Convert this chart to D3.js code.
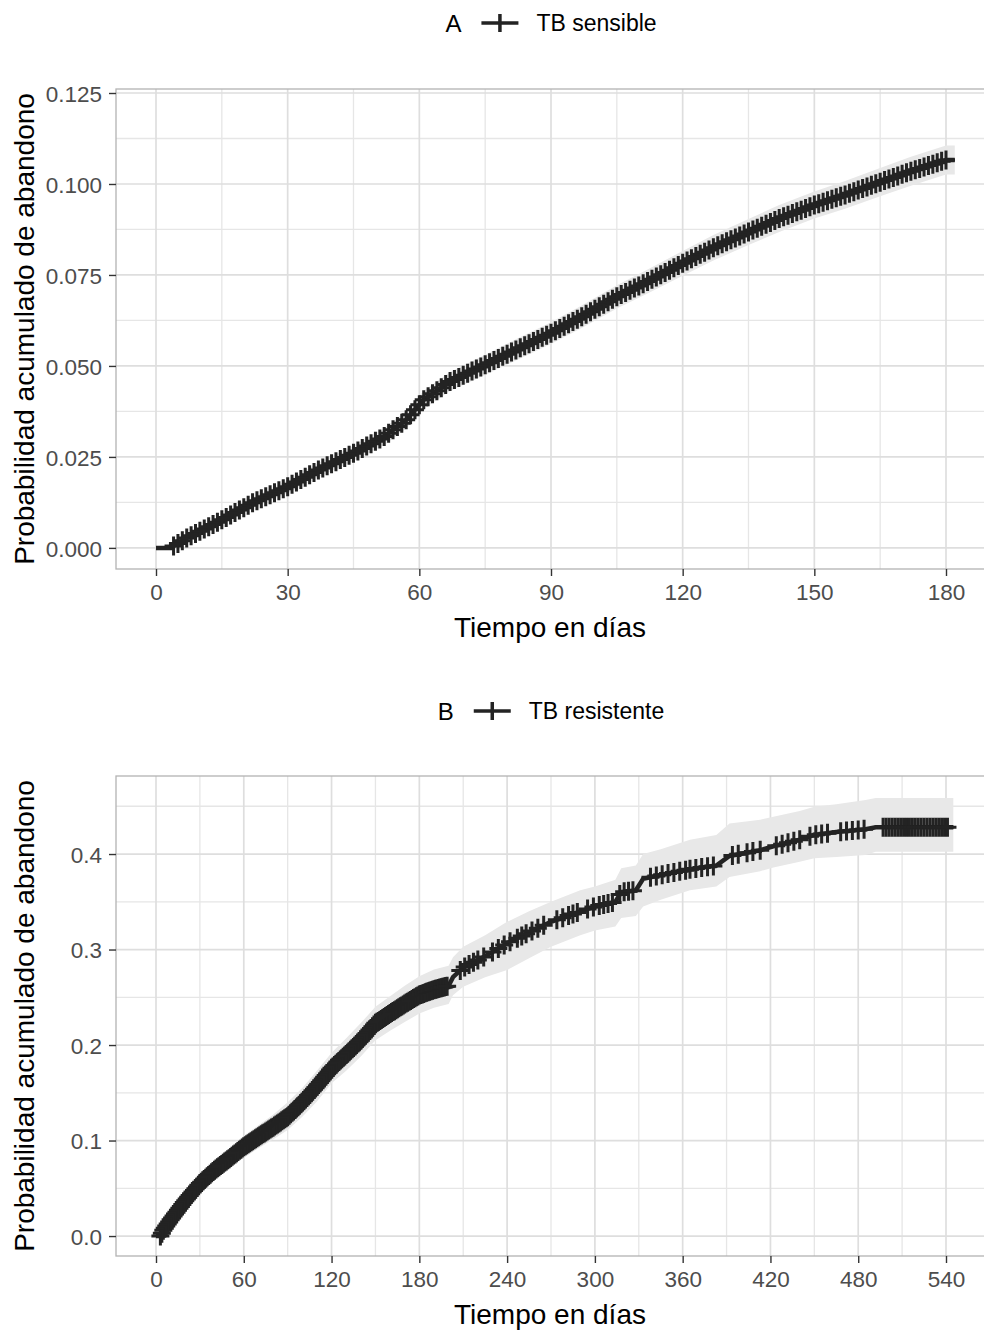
<!DOCTYPE html>
<html>
<head>
<meta charset="utf-8">
<script src="https://cdn.jsdelivr.net/npm/d3@7"></script>
<style>
body { margin: 0; background: #fff; }
text { font-family: "Liberation Sans", Arial, sans-serif; }
</style>
</head>
<body>
<script>
// panel A: TB sensible
var timeA  = [0, 3.5, 4, 7, 15, 22, 30, 37, 45, 52, 57, 61, 67, 75, 82, 90, 97, 105, 112, 120, 127, 135, 142, 150, 157, 165, 172, 180, 182];
var probA  = [0, 0, 0.0005, 0.0027, 0.0077, 0.0124, 0.0168, 0.0214, 0.026, 0.0306, 0.0352, 0.0407, 0.0457, 0.0503, 0.0544, 0.059, 0.0635, 0.069, 0.0732, 0.0782, 0.0825, 0.0868, 0.0905, 0.0942, 0.097, 0.1005, 0.1035, 0.1066, 0.1066];
var lowerA = [0, 0, 0, 0.0019, 0.0065, 0.0109, 0.0151, 0.0195, 0.0239, 0.0283, 0.0328, 0.0382, 0.0431, 0.0475, 0.0515, 0.056, 0.0604, 0.0658, 0.0699, 0.0748, 0.079, 0.0832, 0.0868, 0.0905, 0.0932, 0.0966, 0.0995, 0.1026, 0.1026];
var upperA = [0, 0, 0.001, 0.0035, 0.0089, 0.0139, 0.0185, 0.0233, 0.0281, 0.0329, 0.0376, 0.0432, 0.0483, 0.0531, 0.0573, 0.062, 0.0666, 0.0722, 0.0765, 0.0816, 0.086, 0.0904, 0.0942, 0.0979, 0.1008, 0.1044, 0.1075, 0.1106, 0.1106];
var censorA = [4,5,6,7,8,9,10,11,12,13,14,15,16,17,18,19,20,21,22,23,24,25,26,27,28,29,30,31,32,33,34,35,36,37,38,39,40,41,42,43,44,45,46,47,48,49,50,51,52,53,54,55,56,57,58,59,60,61,62,63,64,65,66,67,68,69,70,71,72,73,74,75,76,77,78,79,80,81,82,83,84,85,86,87,88,89,90,91,92,93,94,95,96,97,98,99,100,101,102,103,104,105,106,107,108,109,110,111,112,113,114,115,116,117,118,119,120,121,122,123,124,125,126,127,128,129,130,131,132,133,134,135,136,137,138,139,140,141,142,143,144,145,146,147,148,149,150,151,152,153,154,155,156,157,158,159,160,161,162,163,164,165,166,167,168,169,170,171,172,173,174,175,176,177,178,179,180];
var xTicksA = [0, 30, 60, 90, 120, 150, 180];
var xMinorA = [15, 45, 75, 105, 135, 165];
var yTicksA = [0, 0.025, 0.05, 0.075, 0.1, 0.125];
var yLabelsA = ["0.000", "0.025", "0.050", "0.075", "0.100", "0.125"];
var yMinorA = [0.0125, 0.0375, 0.0625, 0.0875, 0.1125];

// panel B: TB resistente
var timeB  = [0, 3, 5, 10, 15, 20, 25, 30, 40, 50, 60, 70, 80, 90, 100, 110, 120, 130, 140, 150, 160, 170, 180, 190, 200, 203, 210, 225, 240, 255, 270, 290, 300, 314, 318, 328, 333, 345, 365, 383, 392, 413, 422, 440, 450, 465, 485, 492, 545];
var probB  = [0, 0, 0.006, 0.017, 0.027, 0.037, 0.046, 0.055, 0.069, 0.081, 0.0935, 0.104, 0.114, 0.125, 0.14, 0.157, 0.1756, 0.19, 0.205, 0.2227, 0.233, 0.243, 0.2524, 0.258, 0.262, 0.271, 0.281, 0.293, 0.3065, 0.318, 0.329, 0.34, 0.345, 0.35, 0.36, 0.362, 0.374, 0.378, 0.384, 0.388, 0.398, 0.404, 0.408, 0.415, 0.42, 0.423, 0.426, 0.428, 0.428];
var lowerB = [0, 0, 0.003, 0.012, 0.02, 0.029, 0.037, 0.047, 0.059, 0.07, 0.082, 0.092, 0.101, 0.111, 0.125, 0.141, 0.16, 0.173, 0.188, 0.205, 0.215, 0.224, 0.233, 0.239, 0.243, 0.252, 0.261, 0.271, 0.2785, 0.291, 0.303, 0.315, 0.32, 0.324, 0.333, 0.335, 0.345, 0.352, 0.362, 0.366, 0.376, 0.382, 0.386, 0.392, 0.3955, 0.397, 0.399, 0.4025, 0.4025];
var upperB = [0, 0, 0.009, 0.022, 0.034, 0.045, 0.055, 0.064, 0.079, 0.092, 0.105, 0.116, 0.127, 0.14, 0.155, 0.173, 0.192, 0.207, 0.223, 0.24, 0.251, 0.262, 0.272, 0.279, 0.283, 0.292, 0.303, 0.315, 0.329, 0.34, 0.35, 0.362, 0.366, 0.373, 0.385, 0.388, 0.4, 0.405, 0.415, 0.42, 0.432, 0.436, 0.439, 0.445, 0.4495, 0.452, 0.4565, 0.4586, 0.4586];
var censorB = [3,4,5,6,7,8,9,10,11,12,13,14,15,16,17,18,19,20,21,22,23,24,25,26,27,28,29,30,31,32,33,34,35,36,37,38,39,40,41,42,43,44,45,46,47,48,49,50,51,52,53,54,55,56,57,58,59,60,61,62,63,64,65,66,67,68,69,70,71,72,73,74,75,76,77,78,79,80,81,82,83,84,85,86,87,88,89,90,91,92,93,94,95,96,97,98,99,100,
  101,102,103,104,105,106,107,108,109,110,111,112,113,114,115,116,117,118,119,120,121,122,123,124,125,126,127,128,129,130,131,132,133,134,135,136,137,138,139,140,141,142,143,144,145,146,147,148,149,150,151,152,153,154,155,156,157,158,159,160,161,162,163,164,165,166,167,168,169,170,171,172,173,174,175,176,177,178,179,180,181,182,183,184,185,186,187,188,189,190,191,192,193,194,195,196,197,198,199,
  208,211,214,217,220,224, 230,234,238,242, 247,250,253,257,261,265, 274,278,282,285,288,
  295,299,303,306,309,312, 317,320,323,326, 338,342,346,350,354,358,362,365, 369,373,377,381,
  394,398,404,408,413, 424,428,432,436,440, 447,451,455,459, 468,472,476,480,484,
  497,499,501,503,505,507,509,511,513,515,517,519,521,523,525,527,529,531,533,535,537,539,541];
var xTicksB = [0, 60, 120, 180, 240, 300, 360, 420, 480, 540];
var xMinorB = [30, 90, 150, 210, 270, 330, 390, 450, 510];
var yTicksB = [0, 0.1, 0.2, 0.3, 0.4];
var yLabelsB = ["0.0", "0.1", "0.2", "0.3", "0.4"];
var yMinorB = [0.05, 0.15, 0.25, 0.35, 0.45];

var svg = d3.select("body").append("svg")
    .attr("width", 984)
    .attr("height", 1333);

var lineColor = "#232323";

function drawPanel(p) {
    var x = d3.scaleLinear().domain(p.xDomain).range([116.5, 985.5]);
    var y = d3.scaleLinear().domain(p.yDomain).range([p.bottom, p.top]);
    var g = svg.append("g");

    // gridlines, minor first then major
    g.selectAll(".vminor").data(p.xMinor).enter().append("line")
        .attr("x1", function(d) { return x(d); }).attr("x2", function(d) { return x(d); })
        .attr("y1", p.top).attr("y2", p.bottom)
        .style("stroke", "#e6e6e6").style("stroke-width", 1.3);
    g.selectAll(".hminor").data(p.yMinor).enter().append("line")
        .attr("y1", function(d) { return y(d); }).attr("y2", function(d) { return y(d); })
        .attr("x1", 116).attr("x2", 984)
        .style("stroke", "#e6e6e6").style("stroke-width", 1.3);
    g.selectAll(".vmajor").data(p.xTicks).enter().append("line")
        .attr("x1", function(d) { return x(d); }).attr("x2", function(d) { return x(d); })
        .attr("y1", p.top).attr("y2", p.bottom)
        .style("stroke", "#dedede").style("stroke-width", 1.7);
    g.selectAll(".hmajor").data(p.yTicks).enter().append("line")
        .attr("y1", function(d) { return y(d); }).attr("y2", function(d) { return y(d); })
        .attr("x1", 116).attr("x2", 984)
        .style("stroke", "#dedede").style("stroke-width", 1.7);

    var pts = p.time.map(function(t, i) {
        return {t: t, v: p.prob[i], lo: p.lower[i], hi: p.upper[i]};
    });

    // confidence ribbon
    g.append("path")
        .datum(pts)
        .attr("d", d3.area()
            .x(function(d) { return x(d.t); })
            .y0(function(d) { return y(d.lo); })
            .y1(function(d) { return y(d.hi); }))
        .style("fill", "#e8e8e8");

    // cumulative incidence curve
    g.append("path")
        .datum(pts)
        .attr("d", d3.line()
            .x(function(d) { return x(d.t); })
            .y(function(d) { return y(d.v); }))
        .style("fill", "none")
        .style("stroke", lineColor)
        .style("stroke-width", 4.5);

    // censoring marks
    var curveAt = d3.scaleLinear().domain(p.time).range(p.prob);
    g.selectAll(".cens").data(p.censor).enter().append("path")
        .attr("d", function(t) {
            var cx = x(t), cy = y(curveAt(t));
            return "M" + (cx - 9) + "," + cy + "H" + (cx + 9)
                + "M" + cx + "," + (cy - 9.5) + "V" + (cy + 9.5);
        })
        .style("fill", "none")
        .style("stroke", lineColor)
        .style("stroke-width", 3);

    // panel border
    g.append("rect")
        .attr("x", 116).attr("y", p.top)
        .attr("width", 869).attr("height", p.bottom - p.top)
        .style("fill", "none").style("stroke", "#b3b3b3").style("stroke-width", 1.3);

    // axes
    var xAxis = g.append("g")
        .attr("transform", "translate(0," + p.bottom + ")")
        .call(d3.axisBottom(x).tickValues(p.xTicks).tickSize(7).tickPadding(8));
    var yAxis = g.append("g")
        .attr("transform", "translate(116,0)")
        .call(d3.axisLeft(y).tickValues(p.yTicks)
            .tickFormat(function(d, i) { return p.yLabels[i]; })
            .tickSize(7).tickPadding(7));
    [xAxis, yAxis].forEach(function(a) {
        a.select(".domain").remove();
        a.selectAll(".tick line").style("stroke", "#333").style("stroke-width", 1.4);
        a.selectAll(".tick text")
            .style("font-size", "22.5px")
            .style("fill", "#4d4d4d")
            .style("font-family", "'Liberation Sans', Arial, sans-serif");
    });
    xAxis.selectAll(".tick text").attr("dy", "0.72em");
    yAxis.selectAll(".tick text").attr("dy", "0.36em");

    // axis titles
    g.append("text")
        .attr("x", 550).attr("y", p.bottom + 68)
        .attr("text-anchor", "middle")
        .style("font-size", "28px").style("fill", "#000")
        .text("Tiempo en días");
    g.append("text")
        .attr("transform", "translate(34," + ((p.top + p.bottom) / 2) + ") rotate(-90)")
        .attr("text-anchor", "middle")
        .style("font-size", "28px").style("fill", "#000")
        .text("Probabilidad acumulado de abandono");

    // legend above the panel
    var lg = g.append("g");
    var title = lg.append("text")
        .attr("y", p.legendY + 8.5)
        .style("font-size", "24px").style("fill", "#000")
        .text(p.title);
    var tw = title.node().getComputedTextLength();
    var k0 = tw + 20;
    lg.append("path")
        .attr("d", "M" + k0 + "," + p.legendY + "H" + (k0 + 37)
            + "M" + (k0 + 18.5) + "," + (p.legendY - 9) + "V" + (p.legendY + 9))
        .style("stroke", lineColor).style("stroke-width", 3.5).style("fill", "none");
    var label = lg.append("text")
        .attr("x", k0 + 55).attr("y", p.legendY + 8)
        .style("font-size", "23px").style("fill", "#000")
        .text(p.label);
    var total = k0 + 55 + label.node().getComputedTextLength();
    lg.attr("transform", "translate(" + (551 - total / 2) + ",0)");
}

drawPanel({
    title: "A", label: "TB sensible", legendY: 23,
    top: 89, bottom: 569,
    xDomain: [-9, 189], yDomain: [-0.0058, 0.1261],
    time: timeA, prob: probA, lower: lowerA, upper: upperA, censor: censorA,
    xTicks: xTicksA, xMinor: xMinorA, yTicks: yTicksA, yLabels: yLabelsA, yMinor: yMinorA
});

drawPanel({
    title: "B", label: "TB resistente", legendY: 711,
    top: 776, bottom: 1256,
    xDomain: [-27, 567], yDomain: [-0.0209, 0.4817],
    time: timeB, prob: probB, lower: lowerB, upper: upperB, censor: censorB,
    xTicks: xTicksB, xMinor: xMinorB, yTicks: yTicksB, yLabels: yLabelsB, yMinor: yMinorB
});
</script>
</body>
</html>
